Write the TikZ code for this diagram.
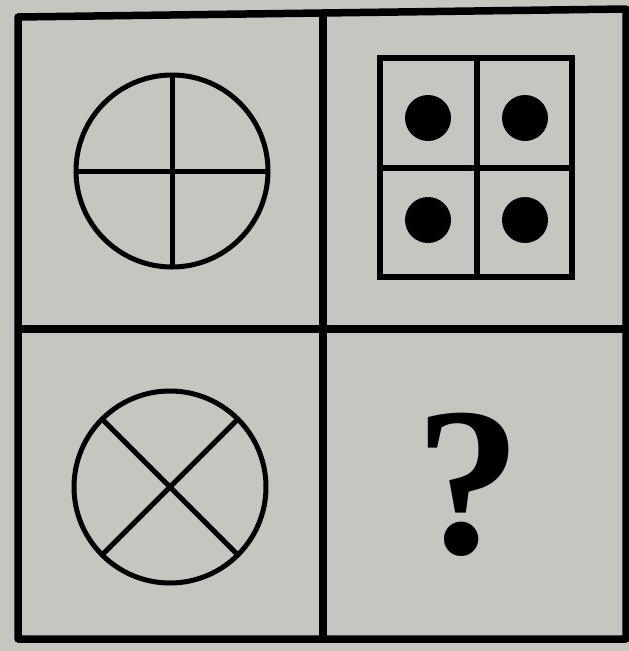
\documentclass[tikz,border=0pt]{standalone}
\usepackage{fontspec}
\newfontfamily\askfont{Liberation Serif}
\definecolor{paper}{RGB}{199,197,192}

\begin{document}
\begin{tikzpicture}[x=1pt, y=-1pt, grid/.style={line width=7.5pt, line join=round}, fig/.style={line width=5pt}, dot/.style={fill=black}]
    \fill[paper] (0,0) rectangle (629,651);
    \useasboundingbox (0,0) rectangle (629,651);
    % frame and cells
    \draw[grid] (18,17) -- (626,9) -- (626,639) -- (18,639) -- cycle;
    \draw[grid] (323,13) -- (323,639);
    \draw[grid] (18,329) -- (626,329);
    % top left: circle with cross
    \draw[fig] (172,171) circle (96);
    \draw[fig] (172,75) -- (172,267);
    \draw[fig] (76,171) -- (268,171);
    % top right: box with four dots
    \draw[fig, line width=6pt] (380,58) rectangle (572,277);
    \draw[fig, line width=6pt] (477,58) -- (477,277);
    \draw[fig, line width=6pt] (380,168) -- (572,168);
    \foreach \cx in {428,525}
        \foreach \cy in {118,220}
            \fill[dot] (\cx,\cy) circle (23);
    % bottom left: circle with diagonal cross
    \draw[fig] (170,487) circle (96);
    \draw[fig] (170,487) ++(45:96) -- ++(225:192);
    \draw[fig] (170,487) ++(135:96) -- ++(315:192);
    % bottom right: question
    \node[font=\askfont\bfseries\fontsize{212}{212}\selectfont, inner sep=0pt] (ask) at (468,485) {?};
\end{tikzpicture}
\end{document}
